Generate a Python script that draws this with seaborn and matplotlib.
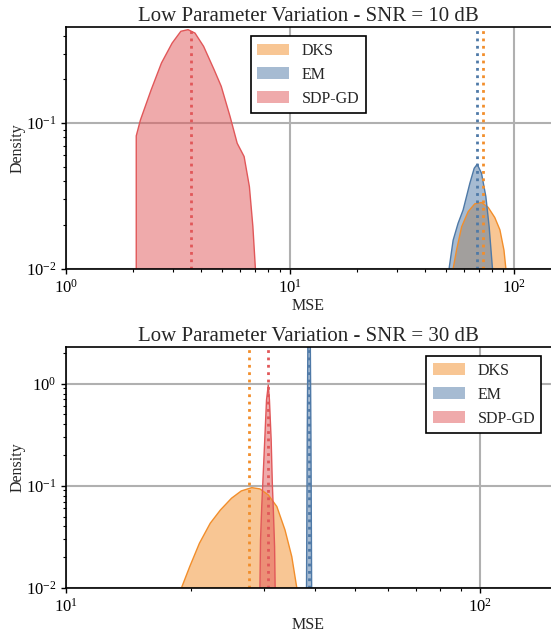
import matplotlib
matplotlib.use("Agg")
import matplotlib.pyplot as plt
import seaborn as sns
import pandas as pd
from matplotlib.colors import to_rgba
from matplotlib.patches import Patch
from matplotlib.ticker import LogLocator, NullFormatter

sns.set_theme(style="whitegrid")
plt.rcParams.update({
    "font.family": ["Liberation Serif", "DejaVu Serif"],
    "mathtext.fontset": "stix",
    "axes.edgecolor": "black",
    "axes.linewidth": 1.2,
    "xtick.bottom": True,
    "ytick.left": True,
    "xtick.color": "black",
    "ytick.color": "black",
    "xtick.direction": "out",
    "ytick.direction": "out",
    "xtick.major.size": 3.5,
    "ytick.major.size": 3.5,
    "xtick.minor.size": 2,
    "ytick.minor.size": 2,
    "xtick.major.width": 1,
    "ytick.major.width": 1,
    "xtick.minor.width": 0.8,
    "ytick.minor.width": 0.8,
    "xtick.labelsize": 12,
    "ytick.labelsize": 12,
    "axes.labelsize": 11.5,
    "axes.titlesize": 15,
    "legend.fontsize": 11.5,
})

methods = ["DKS", "EM", "SDP-GD"]
colors = ["#f28e2b", "#4e79a7", "#e15759"]

# ---- SNR = 10 dB (density curves) ----
top_dks_x = [53.7, 55.6, 58.6, 62.7, 67.1, 71.9, 77.0, 82.4, 86.9, 90.6, 92.4]
top_dks_y = [0.010, 0.0134, 0.0194, 0.0247, 0.0279, 0.0285, 0.0264, 0.0225, 0.0185, 0.0134, 0.010]
top_em_x = [51.5, 53.7, 56.5, 59.5, 63.8, 66.7, 68.8, 71.9, 75.2, 77.8, 80.5]
top_em_y = [0.010, 0.0157, 0.0205, 0.0253, 0.0387, 0.049, 0.0522, 0.0453, 0.0313, 0.0194, 0.010]
top_sdp_x = [2.06, 2.15, 2.40, 2.67, 2.98, 3.26, 3.51, 3.77, 4.12, 4.59, 4.94, 5.41, 5.82, 6.25, 6.60, 6.84, 7.02]
top_sdp_y = [0.0818, 0.105, 0.169, 0.259, 0.355, 0.428, 0.439, 0.416, 0.337, 0.233, 0.179, 0.111, 0.0728, 0.059, 0.0366, 0.0195, 0.010]
top_means = [73.1, 68.8, 3.61]

# ---- SNR = 30 dB ----
bot_dks_x = [19.0, 19.9, 21.0, 22.3, 23.6, 25.1, 26.5, 28.1, 29.4, 30.8, 32.3, 33.8, 35.1, 36.1]
bot_dks_y = [0.010, 0.0162, 0.0274, 0.043, 0.058, 0.0756, 0.0891, 0.096, 0.0933, 0.0815, 0.0627, 0.037, 0.0203, 0.010]
bot_em_x = [38.1, 38.25, 38.4, 38.65, 38.9, 39.05, 39.2]
bot_em_y = [0.010, 0.3, 3.0, 20.0, 3.0, 0.3, 0.010]
bot_sdp_x = [29.4, 29.5, 29.7, 29.9, 30.2, 30.5, 30.8, 31.0, 31.3, 31.5, 31.7, 31.9, 32.0]
bot_sdp_y = [0.010, 0.0295, 0.0627, 0.114, 0.281, 0.693, 0.97, 0.693, 0.281, 0.106, 0.054, 0.0254, 0.010]
bot_means = [27.6, 38.7, 30.8]

FLOOR = 1e-3


def draw_panel(ax, curves, means, title, xlim, ylim, legend_loc):
    for (xs, ys), name, c in zip(curves, methods, colors):
        ax.fill_between(xs, ys, FLOOR, facecolor=to_rgba(c, 0.5), edgecolor="none")
        # outline incl. the vertical drop at the cut edges
        df = pd.DataFrame({"x": [xs[0]] + xs + [xs[-1]], "y": [FLOOR] + ys + [FLOOR]})
        sns.lineplot(data=df, x="x", y="y", sort=False, color=c, lw=1, ax=ax, estimator=None)
    for m, c in zip(means, colors):
        ax.axvline(m, color=c, ls=":", lw=2)

    ax.set_xscale("log")
    ax.set_yscale("log")
    ax.set_xlim(*xlim)
    ax.set_ylim(*ylim)
    ax.xaxis.set_minor_locator(LogLocator(base=10, subs=range(2, 10)))
    ax.yaxis.set_minor_locator(LogLocator(base=10, subs=range(2, 10)))
    ax.xaxis.set_minor_formatter(NullFormatter())
    ax.yaxis.set_minor_formatter(NullFormatter())
    ax.grid(True, which="major", color="#b0b0b0", lw=1.5)
    ax.grid(False, which="minor")
    ax.spines["right"].set_visible(False)

    ax.set_title(title, pad=4)
    ax.set_xlabel("MSE", labelpad=1)
    ax.set_ylabel("Density", labelpad=0)

    handles = [Patch(facecolor=to_rgba(c, 0.5), edgecolor="none", label=n)
               for n, c in zip(methods, colors)]
    leg = ax.legend(handles=handles, loc=legend_loc, fancybox=False,
                    framealpha=1, edgecolor="black", labelspacing=0.5,
                    borderaxespad=0.6)
    leg.get_frame().set_linewidth(1.2)


fig = plt.figure(figsize=(5.51, 6.33), dpi=100)
ax1 = fig.add_axes([0.1198, 0.5755, 0.8802, 0.3823])
ax2 = fig.add_axes([0.1198, 0.0711, 0.8802, 0.3812])

draw_panel(ax1, [(top_dks_x, top_dks_y), (top_em_x, top_em_y), (top_sdp_x, top_sdp_y)],
           top_means, "Low Parameter Variation - SNR = 10 dB", (1, 147), (0.01, 0.46),
           "upper center")
draw_panel(ax2, [(bot_dks_x, bot_dks_y), (bot_em_x, bot_em_y), (bot_sdp_x, bot_sdp_y)],
           bot_means, "Low Parameter Variation - SNR = 30 dB", (10, 148.4), (0.01, 2.3),
           "upper right")

fig.savefig("out.png", dpi=100)
